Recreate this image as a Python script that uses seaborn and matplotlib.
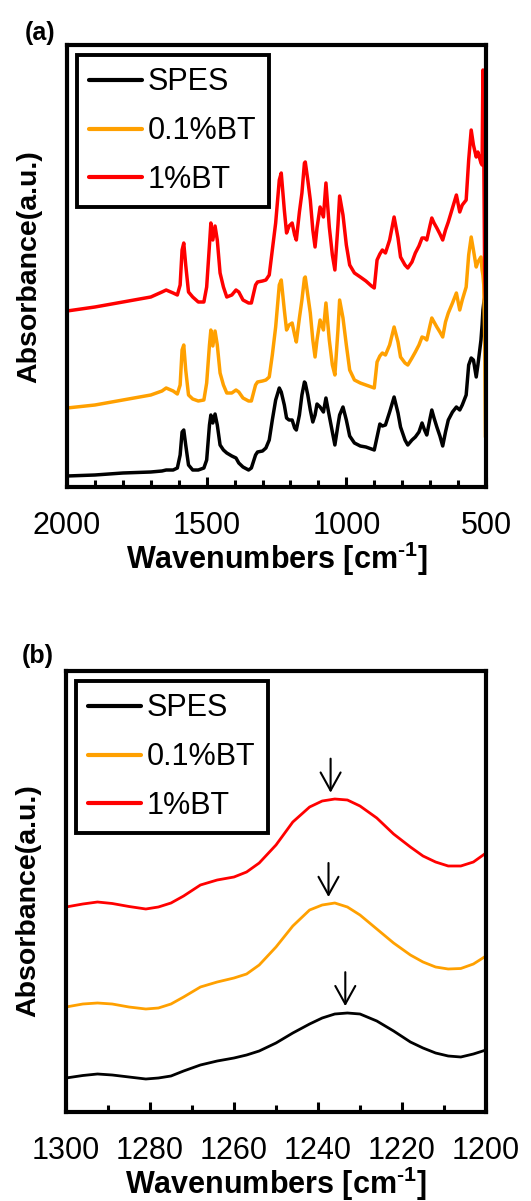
import numpy as np
import pandas as pd
import matplotlib
matplotlib.use("Agg")
import matplotlib.pyplot as plt
from matplotlib.ticker import MultipleLocator
import seaborn as sns

sns.set_theme(style="white")
plt.rcParams["font.family"] = ["Liberation Sans", "DejaVu Sans"]
plt.rcParams["mathtext.fontset"] = "custom"
plt.rcParams["mathtext.rm"] = "Liberation Sans:bold"
plt.rcParams["mathtext.bf"] = "Liberation Sans:bold"
plt.rcParams["mathtext.default"] = "rm"

samples = ["SPES", "0.1%BT", "1%BT"]
colors = ["#000000", "#FFA000", "#FF0000"]

# ---- full FTIR spectra (stacked, arbitrary absorbance units) ----
wn_full = [
    2000, 1900, 1800, 1700, 1660, 1645, 1620, 1605, 1595, 1588,
    1582, 1575, 1565, 1550, 1530, 1510, 1500, 1490, 1485, 1478,
    1470, 1462, 1452, 1440, 1428, 1410, 1395, 1385, 1370, 1350,
    1340, 1325, 1318, 1300, 1288, 1276, 1265, 1253, 1240, 1233,
    1222, 1214, 1205, 1194, 1185, 1179, 1168, 1159, 1150, 1147,
    1138, 1129, 1120, 1112, 1105, 1094, 1082, 1073, 1061, 1050,
    1041, 1030, 1024, 1012, 1000, 988, 971, 950, 930, 910,
    900, 890, 880, 871, 860, 845, 829, 815, 806, 790,
    780, 765, 753, 740, 729, 720, 712, 700, 694, 686,
    676, 665, 655, 645, 635, 620, 606, 594, 585, 571,
    562, 553, 545, 535, 529, 518, 514, 511, 508, 505,
    502, 500,
]
spes_full = [
    11, 12, 14, 15, 16, 17, 17, 19, 32, 55,
    57, 42, 22, 17, 17, 19, 27, 62, 72, 64,
    73, 62, 42, 37, 34, 31, 29, 24, 20, 17,
    19, 32, 35, 36, 39, 47, 67, 87, 99, 95,
    82, 69, 67, 67, 59, 57, 72, 92, 105, 104,
    92, 77, 65, 72, 83, 80, 75, 89, 71, 55,
    42, 62, 72, 80, 67, 51, 44, 41, 40, 38,
    37, 50, 63, 61, 62, 75, 90, 74, 60, 47,
    42, 47, 50, 55, 64, 57, 52, 69, 77, 69,
    60, 51, 41, 55, 67, 75, 80, 77, 82, 92,
    122, 129, 127, 110, 122, 147, 162, 177, 184, 189,
    193, 197,
]
bt01_full = [
    79, 82, 87, 92, 96, 99, 96, 93, 102, 137,
    142, 117, 92, 88, 86, 87, 104, 142, 157, 141,
    156, 142, 114, 102, 94, 94, 97, 95, 89, 86,
    86, 102, 105, 106, 107, 110, 132, 160, 202, 207,
    177, 157, 162, 164, 152, 145, 169, 187, 209, 210,
    192, 174, 147, 130, 147, 167, 157, 184, 147, 122,
    112, 157, 187, 169, 142, 117, 107, 104, 102, 100,
    99, 125, 131, 134, 132, 142, 160, 145, 130, 124,
    122, 129, 135, 142, 150, 149, 147, 162, 169, 165,
    160, 155, 150, 165, 174, 184, 194, 177, 187, 200,
    232, 250, 237, 220, 225, 230, 217, 212, 202, 157,
    50, 50,
]
bt1_full = [
    176, 180, 185, 190, 195, 197, 194, 192, 202, 237,
    244, 222, 195, 190, 185, 185, 200, 242, 264, 247,
    261, 247, 214, 200, 190, 192, 197, 195, 187, 184,
    184, 202, 205, 206, 207, 212, 237, 264, 307, 314,
    277, 254, 261, 264, 252, 247, 275, 294, 324, 325,
    307, 287, 257, 240, 259, 280, 270, 304, 260, 232,
    217, 262, 291, 272, 242, 222, 214, 210, 206, 201,
    199, 227, 233, 237, 234, 247, 270, 249, 230, 222,
    219, 225, 234, 241, 249, 249, 247, 262, 269, 264,
    259, 253, 247, 257, 265, 279, 292, 275, 282, 287,
    327, 357, 342, 330, 335, 324, 322, 417, 337, 217,
    187, 187,
]

# ---- 1300-1200 cm-1 detail ----
wn_zoom = [
    1300, 1296, 1292.5, 1289, 1285, 1281, 1278, 1275, 1272, 1268,
    1264, 1260, 1257, 1254, 1250, 1246, 1242, 1239, 1236, 1233,
    1230, 1226, 1222, 1218, 1215, 1212, 1209, 1206, 1203, 1200,
]
spes_zoom = [
    34, 36.5, 38, 37, 35, 33, 34, 36, 41, 47,
    51, 54, 57, 61, 69, 79, 88, 94, 98, 99,
    98, 91, 81, 70, 64, 59, 56, 55, 58, 62,
]
bt01_zoom = [
    105, 108, 109, 108, 105, 103, 104, 108, 115, 125,
    130, 134, 138, 147, 165, 186, 202, 207, 209, 205,
    197, 183, 169, 157, 150, 145, 143, 143.5, 148, 156,
]
bt1_zoom = [
    205, 208, 210, 208.5, 205.5, 203, 205, 209, 216, 227,
    232, 235, 240, 249, 267, 290, 305, 311, 313, 312,
    306, 294, 278, 265, 256, 250, 246, 246, 250, 259,
]
# band positions marked with arrows (SPES, 0.1%BT, 1%BT)
arrow_wn = [1233.5, 1237.5, 1237.0]


def long_frame(wn, series):
    parts = []
    for name, vals in zip(samples, series):
        parts.append(pd.DataFrame({"wn": wn, "abs": vals, "sample": name}))
    return pd.concat(parts, ignore_index=True)


df_full = long_frame(wn_full, [spes_full, bt01_full, bt1_full])
df_zoom = long_frame(wn_zoom, [spes_zoom, bt01_zoom, bt1_zoom])
palette = dict(zip(samples, colors))

W, H = 531, 1201
fig = plt.figure(figsize=(W / 100, H / 100), dpi=100)
ax_a = fig.add_axes([67 / W, 1 - 487 / H, 419 / W, 442 / H])
ax_b = fig.add_axes([66 / W, 1 - 1112 / H, 420 / W, 441 / H])


def style_axes(ax, label_y):
    for sp in ax.spines.values():
        sp.set_visible(True)
        sp.set_color("black")
        sp.set_linewidth(3.0)
    ax.set_yticks([])
    ax.tick_params(axis="x", which="both", direction="in", bottom=True, top=False,
                   color="black", width=2.2, labelsize=22, pad=17, labelcolor="black")
    ax.tick_params(axis="x", which="major", length=7.3)
    ax.tick_params(axis="x", which="minor", length=5.3)
    ax.set_xlabel(r"Wavenumbers [cm$^{\text{-1}}$]", fontsize=22, fontweight="bold",
                  labelpad=-1, color="black")
    ax.set_ylabel("Absorbance(a.u.)", fontsize=20.5, fontweight="bold", color="black")
    ax.yaxis.set_label_coords(-0.06, label_y)
    handles, labels = ax.get_legend_handles_labels()
    leg = ax.legend(handles, labels, loc="upper left", fontsize=22, frameon=True,
                    fancybox=False, edgecolor="black", framealpha=1,
                    borderpad=0.4, handlelength=1.72, handletextpad=0.2,
                    labelspacing=0.62, borderaxespad=0.33)
    leg.get_frame().set_linewidth(2.8)
    for ln in leg.get_lines():
        ln.set_linewidth(3.0)
    for t in leg.get_texts():
        t.set_color("black")


# (a) full spectra
sns.lineplot(data=df_full, x="wn", y="abs", hue="sample", palette=palette,
             sort=False, estimator=None, linewidth=2.5, ax=ax_a)
ax_a.set_xlim(2000, 500)
ax_a.set_ylim(0, 442)
ax_a.xaxis.set_major_locator(MultipleLocator(500))
ax_a.xaxis.set_minor_locator(MultipleLocator(100))
style_axes(ax_a, 0.498)

# (b) detail of the 1240 cm-1 band
sns.lineplot(data=df_zoom, x="wn", y="abs", hue="sample", palette=palette,
             sort=False, estimator=None, linewidth=2.0, ax=ax_b)
ax_b.set_xlim(1300, 1200)
ax_b.set_ylim(0, 441)
ax_b.xaxis.set_major_locator(MultipleLocator(20))
ax_b.xaxis.set_minor_locator(MultipleLocator(10))
style_axes(ax_b, 0.479)

wz = np.array(wn_zoom)[::-1]
for xw, vals in zip(arrow_wn, [spes_zoom, bt01_zoom, bt1_zoom]):
    peak = np.interp(xw, wz, np.array(vals)[::-1])
    tip = peak + 7
    ax_b.annotate("", xy=(xw, tip), xytext=(xw, tip + 34),
                  arrowprops=dict(arrowstyle="->,head_length=1.3,head_width=0.72",
                                  lw=1.5, color="black", shrinkA=0, shrinkB=0,
                                  mutation_scale=10))

fig.text(40 / W, 1 - 33 / H, "(a)", fontsize=18, fontweight="bold",
         ha="center", va="center", color="black")
fig.text(38 / W, 1 - 656 / H, "(b)", fontsize=18, fontweight="bold",
         ha="center", va="center", color="black")

fig.savefig("out.png", dpi=100, facecolor="white")
